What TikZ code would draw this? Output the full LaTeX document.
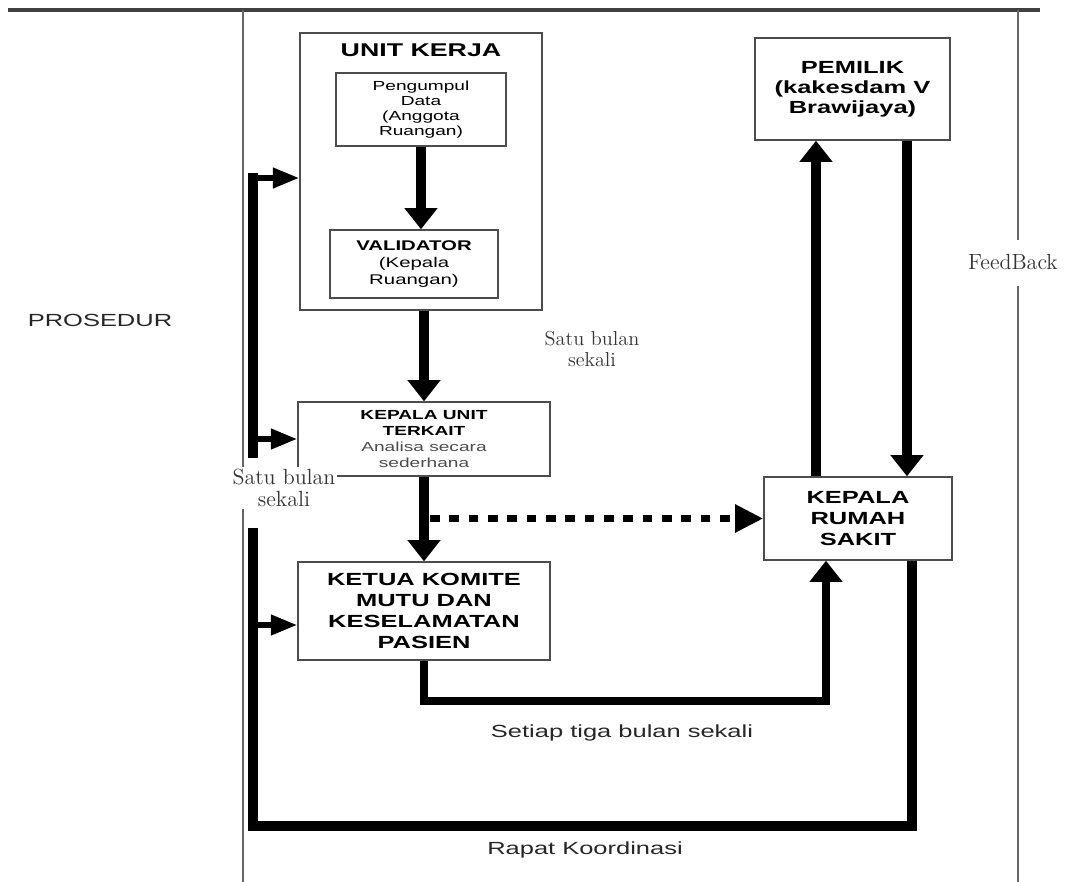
\documentclass[tikz,border=0pt]{standalone}
\usepackage{fontspec}
\newfontfamily\sansx{Liberation Sans}[FakeStretch=1.45]
\usetikzlibrary{arrows.meta}

\begin{document}
\begin{tikzpicture}[x=0.02cm, y=-0.02cm]
        \tikzstyle{rec} = [rectangle, draw=black!70, line width=0.8pt, align=center, inner sep=2pt, font=\sansx\bfseries\fontsize{10}{12}\selectfont]
        \tikzstyle{small} = [font=\sansx\fontsize{7.5}{8.6}\selectfont]
        \tikzstyle{line} = [-{Triangle[length=12pt,width=18pt]}, line width=5.5pt]
        \tikzstyle{branch} = [-{Triangle[length=15pt,width=11pt]}, line width=3.4pt]
        \tikzstyle{bus} = [line width=5.5pt]
        \tikzstyle{dotline} = [-{Triangle[length=16pt,width=15pt]}, line width=4pt, dash pattern=on 5.5pt off 5.5pt]
        \tikzstyle{note} = [text=black!85, font=\sansx\fontsize{10}{12}\selectfont]
        \tikzstyle{serifnote} = [align=center, text=black!80, inner sep=1pt, font=\rmfamily\fontsize{11.5}{12.5}\selectfont]

        \useasboundingbox (0,0) rectangle (1073,882);

        % page frame
        \draw[black!75, line width=2.5pt] (8,10) -- (1040,10);
        \draw[black!60, line width=0.9pt] (243,10) -- (243,882);
        \draw[black!60, line width=0.9pt] (1018,10) -- (1018,240) (1018,286) -- (1018,882);

        \node(unit) [rec, minimum width=4.84cm, minimum height=5.54cm] at (421,171.5) {};
        \node(unittitle) [font=\sansx\bfseries\fontsize{10.5}{12}\selectfont] at (421,50) {UNIT KERJA};
        \node(pengumpul) [rec, small, minimum width=3.4cm, minimum height=1.46cm] at (421,109.5) {Pengumpul\\Data\\(Anggota\\Ruangan)};
        \node(validator) [rec, font=\sansx\fontsize{8}{9.6}\selectfont, minimum width=3.36cm, minimum height=1.36cm] at (414,264) {\textbf{VALIDATOR}\\(Kepala\\Ruangan)};
        \node(kepalaunit) [rec, small, font=\sansx\fontsize{7.5}{9}\selectfont, minimum width=5.04cm, minimum height=1.48cm] at (424,439) {\textbf{KEPALA UNIT}\\\textbf{TERKAIT}\\{\color{black!70}Analisa secara}\\{\color{black!70}sederhana}};
        \node(ketua) [rec, minimum width=5.04cm, minimum height=1.96cm] at (424,611) {KETUA KOMITE\\MUTU DAN\\KESELAMATAN\\PASIEN};
        \node(pemilik) [rec, font=\sansx\bfseries\fontsize{10}{11.3}\selectfont, minimum width=3.9cm, minimum height=2.04cm] at (852.5,89) {PEMILIK\\(kakesdam V\\Brawijaya)};
        \node(krs) [rec, minimum width=3.76cm, minimum height=1.66cm] at (858,518.5) {KEPALA\\RUMAH\\SAKIT};

        \draw[line] (pengumpul.south) -- (pengumpul.south |- validator.north);
        \draw[line] (kepalaunit.north |- unit.south) -- (kepalaunit.north);
        \draw[line] (kepalaunit.south) -- (ketua.north);
        \coordinate (dotstart) at (kepalaunit.south |- krs.west);
        \draw[dotline] ([xshift=0.12cm]dotstart) -- (krs.west);
        \draw[line] ([xshift=-0.84cm]krs.north) -- ([xshift=-0.84cm]krs.north |- pemilik.south);
        \draw[line] ([xshift=1.09cm]pemilik.south) -- ([xshift=1.09cm]pemilik.south |- krs.north);
        \draw[line, line width=4.5pt] (ketua.south) -- ++(0,40) -| ([xshift=-0.64cm]krs.south);

        % coordination loop back to the units
        \coordinate (bustop) at (253,178);
        \coordinate (bus3) at (253,625);
        \draw[bus] ([xshift=1.08cm]krs.south) -- ++(0,265) -| (253,528);
        \draw[bus] (253,458) -- ([yshift=0.1cm]bustop);
        \draw[branch] (bustop) -- (bustop -| unit.west);
        \draw[branch] (bustop |- kepalaunit.west) -- (kepalaunit.west);
        \draw[branch] (bus3) -- (bus3 -| ketua.west);

        \node(prosedur) [note] at (100,320) {PROSEDUR};
        \node(satu1) [serifnote] at (592,349) {Satu bulan\\sekali};
        \node(satu2) [serifnote, fill=white, font=\rmfamily\fontsize{12.5}{12.5}\selectfont] at (284,488) {Satu bulan\\sekali};
        \node(feedback) [serifnote, fill=white, font=\rmfamily\fontsize{12.5}{12.5}\selectfont] at (1013,262) {FeedBack};
        \node(setiap) [note] at (622,733) {Setiap tiga bulan sekali};
        \node(rapat) [note] at (585,850) {Rapat Koordinasi};
\end{tikzpicture}
\end{document}
